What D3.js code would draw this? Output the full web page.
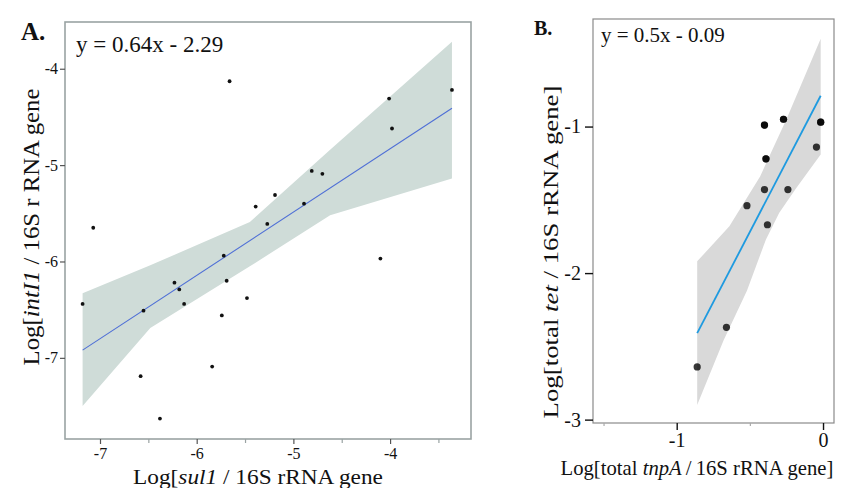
<!DOCTYPE html>
<html>
<head>
<meta charset="utf-8">
<script src="https://cdn.jsdelivr.net/npm/d3@7"></script>
<style>
  html, body { margin: 0; padding: 0; background: #fff; }
  svg { display: block; }
  text { font-family: "Liberation Serif", "Times New Roman", serif; fill: #111; }
</style>
</head>
<body>
<svg id="chart" width="846" height="488"></svg>
<script>
// ---------- Panel A data ----------
const aX = [-5.66, -4.01, -3.36, -3.98, -4.81, -4.70, -5.19, -5.39, -4.89, -5.27, -7.07, -5.72,
            -4.10, -6.23, -6.18, -5.69, -7.18, -6.13, -5.48, -6.55, -5.74, -5.84, -6.58, -6.38];
const aY = [-4.13, -4.31, -4.22, -4.62, -5.06, -5.09, -5.31, -5.43, -5.40, -5.61, -5.65, -5.94,
            -5.97, -6.22, -6.29, -6.20, -6.44, -6.44, -6.38, -6.51, -6.56, -7.09, -7.19, -7.63];
const fitAX = [-7.18, -3.36];
const fitAY = [-6.92, -4.41];
const bandAX  = [-7.18, -6.48, -5.45, -4.62, -3.36];
const bandAHi = [-6.33, -6.04, -5.59, -4.84, -3.72];
const bandALo = [-7.50, -6.69, -6.05, -5.52, -5.14];
const ticksAX = [-7, -6, -5, -4];
const minorAX = [-6.5, -5.5, -4.5, -3.5];
const ticksAY = [-4, -5, -6, -7];
const eqA = "y = 0.64x - 2.29";

// ---------- Panel B data ----------
const bX = [-0.40, -0.40, -0.27, -0.27, -0.016, -0.016, -0.39, -0.39, -0.045, -0.40, -0.24, -0.52, -0.38, -0.66, -0.86];
const bY = [-0.99, -0.99, -0.95, -0.95, -0.97, -0.97, -1.22, -1.22, -1.14, -1.43, -1.43, -1.54, -1.67, -2.37, -2.64];
const fitBX = [-0.86, -0.016];
const fitBY = [-2.41, -0.79];
const bandBHiX = [-0.86, -0.64, -0.43, -0.25, -0.016];
const bandBHiY = [-1.92, -1.68, -1.34, -0.95, -0.40];
const bandBLoX = [-0.86, -0.68, -0.52, -0.39, -0.30, -0.19, -0.016];
const bandBLoY = [-2.90, -2.46, -2.12, -1.77, -1.59, -1.43, -1.19];
const ticksBX = [-1, 0];
const minorBX = [-1.5, -0.5];
const ticksBY = [-1, -2, -3];
const eqB = "y = 0.5x - 0.09";

const svg = d3.select("#chart");
const fmt = d => String(d);   // plain hyphen-minus like the reference

// fit a text element to a target length (along its own direction) by scaling
function fitLength(sel, cx, cy, rot, target) {
  const len = sel.node().getComputedTextLength();
  const k = target / len;
  sel.attr("transform", `translate(${cx},${cy}) rotate(${rot}) scale(${k},1)`);
}

// ================= PANEL A =================
const A = { left: 65, right: 471, top: 22, bottom: 439 };
const xA = d3.scaleLinear().domain([-7.362, -3.163]).range([A.left, A.right]);
const yA = d3.scaleLinear().domain([-3.515, -7.842]).range([A.top, A.bottom]);
const gA = svg.append("g");

const bandAPts = bandAX.map((x, i) => [x, bandAHi[i]])
  .concat(bandAX.map((x, i) => [x, bandALo[i]]).reverse());
gA.append("path")
  .attr("d", d3.line().x(d => xA(d[0])).y(d => yA(d[1]))(bandAPts) + "Z")
  .attr("fill", "#cfdcd8");

gA.append("path")
  .attr("d", d3.line().x(d => xA(d[0])).y(d => yA(d[1]))(fitAX.map((x, i) => [x, fitAY[i]])))
  .attr("fill", "none").attr("stroke", "#4f6fd6").attr("stroke-width", 1.1);

gA.selectAll("circle.pa").data(aX.map((x, i) => [x, aY[i]])).join("circle")
  .attr("class", "pa")
  .attr("cx", d => xA(d[0])).attr("cy", d => yA(d[1])).attr("r", 1.9)
  .attr("fill", "#111");

gA.append("rect")
  .attr("x", A.left).attr("y", A.top)
  .attr("width", A.right - A.left).attr("height", A.bottom - A.top)
  .attr("fill", "none").attr("stroke", "#9aa3a3").attr("stroke-width", 1.6);

const axAX = gA.append("g").attr("transform", `translate(0,${A.bottom})`)
  .call(d3.axisBottom(xA).tickValues(ticksAX).tickSize(5).tickPadding(4).tickFormat(fmt));
const axAXm = gA.append("g").attr("transform", `translate(0,${A.bottom})`)
  .call(d3.axisBottom(xA).tickValues(minorAX).tickSize(4).tickFormat(""));
const axAY = gA.append("g").attr("transform", `translate(${A.left},0)`)
  .call(d3.axisLeft(yA).tickValues(ticksAY).tickSize(5).tickPadding(2).tickFormat(fmt));
[axAX, axAXm, axAY].forEach(g => {
  g.select(".domain").remove();
  g.selectAll("text").style("font-size", "16px").style("font-family", "Liberation Serif").attr("fill", "#111");
});
axAX.selectAll("line").attr("stroke", "#555").attr("stroke-width", 1.2);
axAXm.selectAll("line").attr("stroke", "#9aa3a3").attr("stroke-width", 1.2);
axAY.selectAll("line").attr("stroke", "#555").attr("stroke-width", 1.2);

svg.append("text").attr("x", 21).attr("y", 40)
  .style("font-size", "25px").style("font-weight", "bold").text("A.");
svg.append("text").attr("x", 76).attr("y", 52)
  .style("font-size", "23px").text(eqA);

const xlabA = svg.append("text").attr("text-anchor", "middle").style("font-size", "22px");
xlabA.append("tspan").text("Log[");
xlabA.append("tspan").style("font-style", "italic").text("sul1");
xlabA.append("tspan").text(" / 16S rRNA gene");
fitLength(xlabA, 258, 484, 0, 250);

const ylabA = svg.append("text").attr("text-anchor", "middle").style("font-size", "24px");
ylabA.append("tspan").text("Log[");
ylabA.append("tspan").style("font-style", "italic").text("intI1");
ylabA.append("tspan").text(" / 16S r RNA gene");
fitLength(ylabA, 39, 227, -90, 277);

// ================= PANEL B =================
const B = { left: 593, right: 834, top: 19, bottom: 423 };
const xB = d3.scaleLinear().domain([-1.572, 0.075]).range([B.left, B.right]);
const yB = d3.scaleLinear().domain([-0.266, -3.023]).range([B.top, B.bottom]);
const gB = svg.append("g");

const bandBPts = bandBHiX.map((x, i) => [x, bandBHiY[i]])
  .concat(bandBLoX.map((x, i) => [x, bandBLoY[i]]).reverse());
gB.append("path")
  .attr("d", d3.line().x(d => xB(d[0])).y(d => yB(d[1]))(bandBPts) + "Z")
  .attr("fill", "#d9d9d9");

gB.append("path")
  .attr("d", d3.line().x(d => xB(d[0])).y(d => yB(d[1]))(fitBX.map((x, i) => [x, fitBY[i]])))
  .attr("fill", "none").attr("stroke", "#1e9ae0").attr("stroke-width", 1.8);

gB.selectAll("circle.pb").data(bX.map((x, i) => [x, bY[i]])).join("circle")
  .attr("class", "pb")
  .attr("cx", d => xB(d[0])).attr("cy", d => yB(d[1])).attr("r", 3.6)
  .attr("fill", "#000").attr("fill-opacity", 0.78);

gB.append("rect")
  .attr("x", B.left).attr("y", B.top)
  .attr("width", B.right - B.left).attr("height", B.bottom - B.top)
  .attr("fill", "none").attr("stroke", "#8a8a8a").attr("stroke-width", 1.2);

const axBX = gB.append("g").attr("transform", `translate(0,${B.bottom})`)
  .call(d3.axisBottom(xB).tickValues(ticksBX).tickSize(7).tickPadding(3).tickFormat(fmt));
const axBXm = gB.append("g").attr("transform", `translate(0,${B.bottom})`)
  .call(d3.axisBottom(xB).tickValues(minorBX).tickSize(3).tickFormat(""));
const axBY = gB.append("g").attr("transform", `translate(${B.left},0)`)
  .call(d3.axisLeft(yB).tickValues(ticksBY).tickSize(8).tickPadding(4).tickFormat(fmt));
[axBX, axBXm, axBY].forEach(g => {
  g.select(".domain").remove();
  g.selectAll("text").style("font-size", "20px").style("font-family", "Liberation Serif").attr("fill", "#111");
});
axBX.selectAll("line").attr("stroke", "#111").attr("stroke-width", 1.4);
axBXm.selectAll("line").attr("stroke", "#aaa").attr("stroke-width", 1.2);
axBY.selectAll("line").attr("stroke", "#111").attr("stroke-width", 1.4);

svg.append("text").attr("x", 534).attr("y", 35)
  .style("font-size", "20px").style("font-weight", "bold").text("B.");
svg.append("text").attr("x", 601).attr("y", 42)
  .style("font-size", "21px").text(eqB);

const xlabB = svg.append("text").attr("text-anchor", "middle").style("font-size", "20px");
xlabB.append("tspan").text("Log[total ");
xlabB.append("tspan").style("font-style", "italic").text("tnpA");
xlabB.append("tspan").text("\u2009/\u200916S rRNA gene]");
fitLength(xlabB, 697, 475, 0, 273);

const ylabB = svg.append("text").attr("text-anchor", "middle").style("font-size", "21px");
ylabB.append("tspan").text("Log[total ");
ylabB.append("tspan").style("font-style", "italic").text("tet");
ylabB.append("tspan").text(" / 16S rRNA gene]");
fitLength(ylabB, 558, 252, -90, 333);
</script>
</body>
</html>
